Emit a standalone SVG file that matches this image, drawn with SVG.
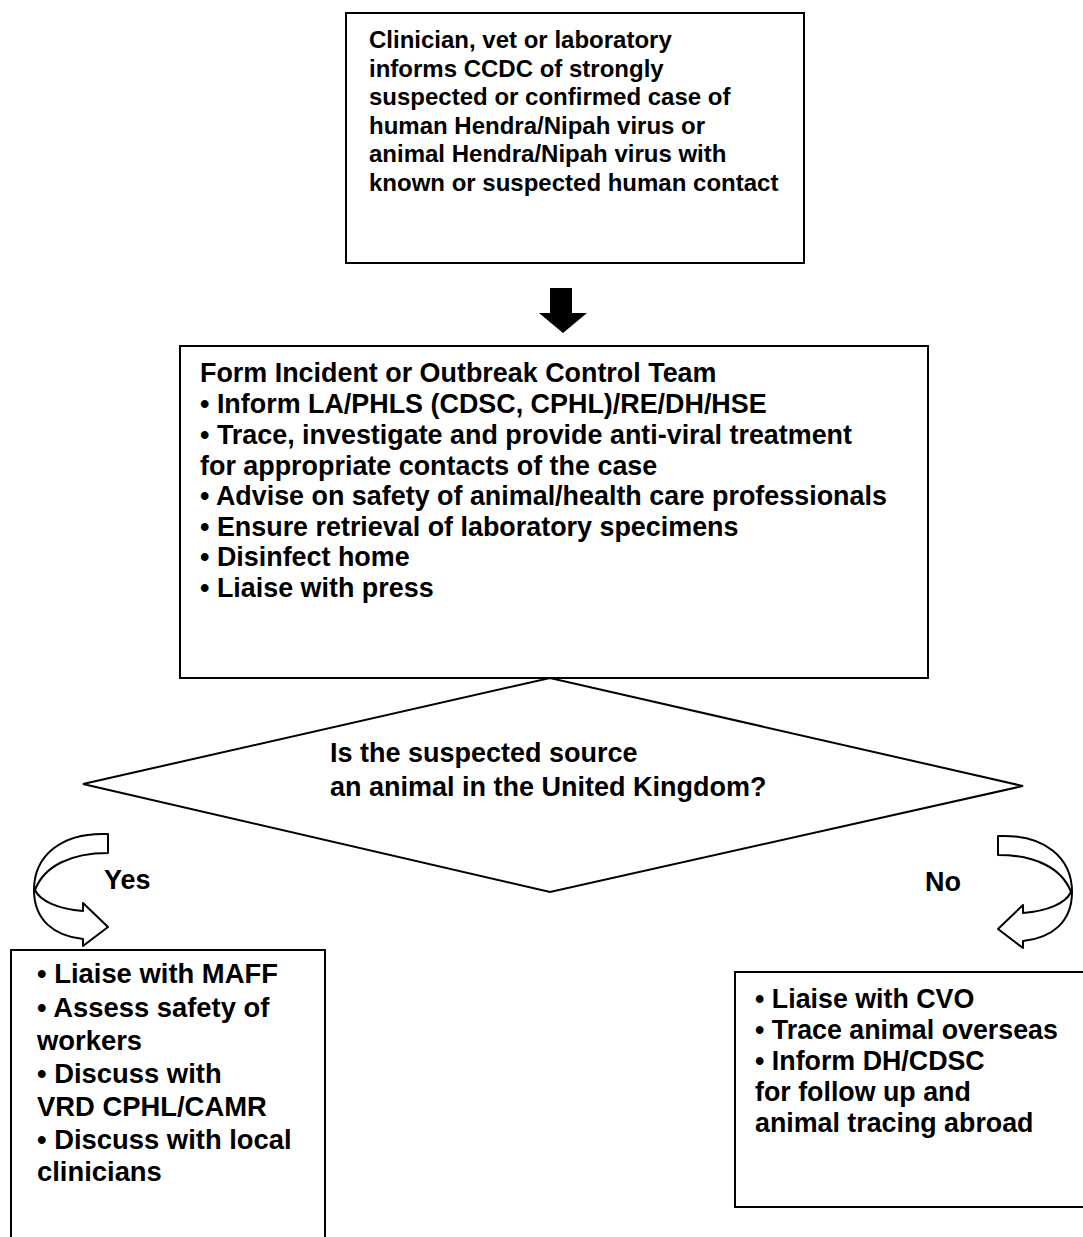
<svg xmlns="http://www.w3.org/2000/svg" width="1083" height="1237" viewBox="0 0 1083 1237">
<style>
.box{fill:#fff;stroke:#000;stroke-width:2}
.t{font-family:"Liberation Sans",Arial,sans-serif;font-weight:bold;fill:#000}
.t1{font-size:24px}
.t2{font-size:26.9px}
.t3{font-size:27px}
.t5{font-size:27.4px}
.t4{font-size:26.8px}
.ln{fill:#fff;stroke:#000;stroke-width:2;stroke-linejoin:round}
</style>
<rect width="1083" height="1237" fill="#fff"/>
<g id="connectors">
  <path id="down-arrow" d="M550,288 H572 V313 H587 L563,333 L539,313 H550 Z" fill="#000"/>
  <path id="no-arrow" class="ln" d="M998,836 C1045,834 1072,858 1072,892 C1072,922 1052,938 1023,941 L1023,948 L998,929 L1023,905 L1023,913 C1048,911 1066,903 1071,892 C1062,868 1035,855 998,855 Z"/>
  <path id="yes-arrow" class="ln" transform="translate(1106,-2) scale(-1,1)" d="M998,836 C1045,834 1072,858 1072,892 C1072,922 1052,938 1023,941 L1023,948 L998,929 L1023,905 L1023,913 C1048,911 1066,903 1071,892 C1062,868 1035,855 998,855 Z"/>
  <text class="t t3" x="104" y="889">Yes</text>
  <text class="t t3" x="925" y="891">No</text>
</g>
<g id="start">
  <rect class="box" x="346" y="13" width="458" height="250"/>
  <text class="t t1" x="369" y="48">Clinician, vet or laboratory</text>
  <text class="t t1" x="369" y="77">informs CCDC of strongly</text>
  <text class="t t1" x="369" y="105">suspected or confirmed case of</text>
  <text class="t t1" x="369" y="134">human Hendra/Nipah virus or</text>
  <text class="t t1" x="369" y="162">animal Hendra/Nipah virus with</text>
  <text class="t t1" x="369" y="191">known or suspected human contact</text>
</g>
<g id="team">
  <rect class="box" x="180" y="346" width="748" height="332"/>
  <text class="t t2" x="200" y="382">Form Incident or Outbreak Control Team</text>
  <text class="t t2" x="200" y="413">• Inform LA/PHLS (CDSC, CPHL)/RE/DH/HSE</text>
  <text class="t t2" x="200" y="444">• Trace, investigate and provide anti-viral treatment</text>
  <text class="t t2" x="200" y="475">for appropriate contacts of the case</text>
  <text class="t t2" x="200" y="505">• Advise on safety of animal/health care professionals</text>
  <text class="t t2" x="200" y="536">• Ensure retrieval of laboratory specimens</text>
  <text class="t t2" x="200" y="566">• Disinfect home</text>
  <text class="t t2" x="200" y="597">• Liaise with press</text>
</g>
<g id="decision">
  <polygon class="box" points="83,784 550,678 1023,786 550,892"/>
  <text class="t t3" x="330" y="762">Is the suspected source</text>
  <text class="t t3" x="330" y="796">an animal in the United Kingdom?</text>
</g>
<g id="yes-box">
  <rect class="box" x="11" y="950" width="314" height="300"/>
  <text class="t t5" x="37" y="983">• Liaise with MAFF</text>
  <text class="t t5" x="37" y="1017">• Assess safety of</text>
  <text class="t t5" x="37" y="1050">workers</text>
  <text class="t t5" x="37" y="1083">• Discuss with</text>
  <text class="t t5" x="37" y="1116">VRD CPHL/CAMR</text>
  <text class="t t5" x="37" y="1149">• Discuss with local</text>
  <text class="t t5" x="37" y="1181">clinicians</text>
</g>
<g id="no-box">
  <rect class="box" x="735" y="972" width="360" height="235"/>
  <text class="t t4" x="755" y="1008">• Liaise with CVO</text>
  <text class="t t4" x="755" y="1039">• Trace animal overseas</text>
  <text class="t t4" x="755" y="1070">• Inform DH/CDSC</text>
  <text class="t t4" x="755" y="1101">for follow up and</text>
  <text class="t t4" x="755" y="1132">animal tracing abroad</text>
</g>
</svg>
